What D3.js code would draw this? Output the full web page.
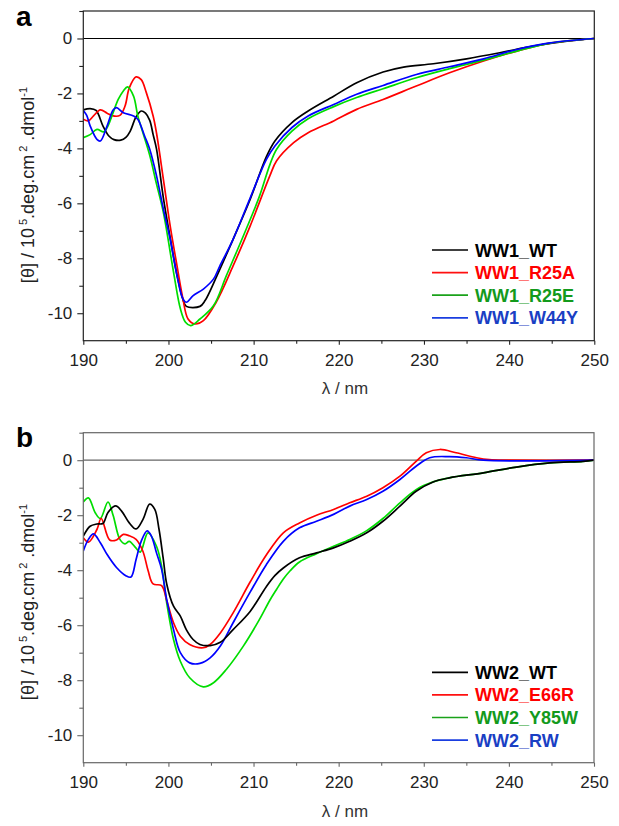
<!DOCTYPE html>
<html><head><meta charset="utf-8">
<script src="https://cdnjs.cloudflare.com/ajax/libs/d3/7.8.5/d3.min.js"></script>
<style>
body{margin:0;background:#fff;}
svg{display:block;font-family:"Liberation Sans",Arial,sans-serif;}
</style></head><body>
<svg id="c" width="619" height="826"></svg>
<script>
// ---- tick values ----
const xTicks = [190,200,210,220,230,240,250];
const xMinorTicks = [195,205,215,225,235,245];
const yTicks = [0,-2,-4,-6,-8,-10];
const yMinorTicks = [1,-1,-3,-5,-7,-9];

// ---- panel a series ----
const seriesA = ["WW1_WT","WW1_R25A","WW1_R25E","WW1_W44Y"];
const a_WT = [[190,-2.6],[190.8,-2.55],[191.5,-2.62],[192.3,-3.18],[193.0,-3.55],[193.6,-3.68],[194.4,-3.7],[195.0,-3.6],[195.5,-3.38],[196.2,-2.85],[196.8,-2.64],[197.3,-2.72],[197.8,-2.98],[198.2,-3.5],[198.6,-4.03],[199.4,-5.8],[200.2,-7.25],[201.0,-8.6],[201.7,-9.5],[202.1,-9.75],[203.7,-9.75],[204.3,-9.54],[205.7,-8.63],[207.6,-7.3],[209.6,-5.85],[211.5,-4.3],[212.5,-3.73],[214.5,-3.06],[216.4,-2.64],[219.4,-2.1],[222.1,-1.61],[225.2,-1.22],[227.6,-1.04],[231.1,-0.92],[235,-0.74],[238.9,-0.52],[242.8,-0.28],[246.8,-0.1],[250,0]];
const a_R25A = [[190,-2.94],[190.6,-3.0],[191.2,-2.82],[192.0,-2.6],[192.8,-2.72],[193.5,-2.82],[194.3,-2.8],[194.9,-2.46],[195.4,-1.8],[196.2,-1.4],[196.8,-1.5],[197.4,-1.97],[198.2,-2.82],[198.6,-3.45],[199.4,-5.12],[200.2,-6.82],[201.0,-8.27],[201.7,-9.48],[202.3,-10.21],[203.1,-10.39],[204.1,-10.27],[205.6,-9.6],[207.6,-8.27],[209.6,-6.82],[211.9,-5.0],[212.7,-4.45],[214.7,-3.79],[216.4,-3.43],[219.4,-3.0],[222.1,-2.58],[225.2,-2.22],[229.1,-1.73],[233,-1.25],[237,-0.82],[240.9,-0.46],[244.8,-0.17],[250,0]];
const a_R25E = [[190,-3.61],[190.8,-3.5],[191.6,-3.31],[192.4,-3.4],[192.9,-3.18],[193.5,-2.7],[194.1,-2.22],[194.7,-1.91],[195.2,-1.76],[195.9,-2.1],[196.4,-2.82],[197.0,-3.43],[197.8,-4.25],[198.6,-5.3],[199.4,-6.33],[200.6,-8.51],[201.4,-9.84],[202.0,-10.33],[202.6,-10.45],[203.7,-10.21],[205.3,-9.72],[206.8,-8.63],[208.8,-7.18],[210.7,-5.73],[211.9,-4.6],[212.7,-4.03],[214.5,-3.37],[216.4,-2.92],[219.4,-2.48],[222.1,-2.15],[225.2,-1.83],[229.1,-1.43],[233,-1.1],[237,-0.79],[240.9,-0.46],[244.8,-0.17],[250,0]];
const a_W44Y = [[190,-2.62],[190.4,-2.8],[190.8,-3.18],[191.6,-3.67],[192.0,-3.73],[192.8,-3.18],[193.5,-2.6],[193.9,-2.52],[194.7,-2.7],[195.9,-2.82],[196.4,-2.94],[197.2,-3.55],[197.8,-4.03],[198.6,-5.0],[199.4,-6.21],[200.2,-7.3],[201.0,-8.63],[201.7,-9.48],[202.1,-9.6],[202.9,-9.36],[204.1,-9.12],[205.3,-8.75],[206.0,-8.3],[207.6,-7.3],[209.6,-5.8],[211.5,-4.4],[212.5,-3.91],[214.5,-3.24],[216.4,-2.82],[219.4,-2.4],[222.1,-2.03],[225.2,-1.71],[229.1,-1.31],[233,-1.03],[237,-0.74],[240.9,-0.4],[244.8,-0.16],[250,0]];

// ---- panel b series ----
const seriesB = ["WW2_WT","WW2_E66R","WW2_Y85W","WW2_RW"];
const b_WT = [[190,-2.76],[190.8,-2.4],[191.6,-2.32],[192.3,-2.3],[192.9,-1.9],[193.8,-1.66],[194.5,-1.85],[195.4,-2.28],[196.2,-2.5],[197.0,-2.16],[197.8,-1.6],[198.4,-1.79],[198.9,-2.52],[199.4,-3.6],[199.8,-4.5],[200.6,-5.31],[201.4,-5.67],[202.1,-6.16],[202.9,-6.52],[203.7,-6.7],[204.9,-6.74],[206.1,-6.62],[207.6,-6.16],[209.6,-5.5],[211.5,-4.6],[212.5,-4.2],[213.5,-3.92],[215.4,-3.55],[217.4,-3.37],[219.4,-3.19],[221.3,-2.95],[223.3,-2.64],[225.2,-2.22],[227.2,-1.67],[229.1,-1.13],[231.1,-0.79],[233,-0.64],[237,-0.46],[240.9,-0.25],[244.8,-0.1],[248.7,-0.04],[250,0]];
const b_E66R = [[190,-2.82],[190.6,-2.98],[191.6,-2.52],[192.1,-2.12],[193.1,-2.9],[193.9,-2.9],[194.7,-2.7],[195.4,-2.75],[196.2,-2.88],[197.0,-3.31],[197.6,-4.0],[198.2,-4.5],[199.2,-4.56],[199.8,-5.1],[200.6,-5.91],[201.4,-6.4],[202.5,-6.7],[204.1,-6.82],[204.9,-6.7],[206.1,-6.28],[207.6,-5.55],[209.6,-4.43],[211.5,-3.45],[213.5,-2.64],[215.4,-2.28],[217.4,-2.0],[219.4,-1.79],[221.3,-1.55],[223.3,-1.31],[225.2,-1.0],[227.2,-0.58],[229.1,-0.04],[230.3,0.27],[231.9,0.39],[233.8,0.27],[236.2,0.09],[237.7,0.02],[240,0],[250,0]];
const b_Y85W = [[190,-1.52],[190.6,-1.37],[191.4,-1.91],[192.0,-2.12],[192.9,-1.52],[193.5,-2.0],[194.3,-2.88],[194.9,-3.04],[195.4,-2.95],[196.2,-3.2],[196.7,-3.34],[197.6,-2.64],[198.6,-3.13],[199.2,-3.85],[199.8,-5.19],[200.6,-6.52],[201.4,-7.31],[202.5,-7.91],[204.1,-8.24],[205.3,-8.09],[206.8,-7.61],[208.8,-6.76],[210.7,-5.79],[211.9,-5.1],[212.7,-4.7],[213.5,-4.32],[214.3,-4.02],[215.4,-3.7],[217.4,-3.4],[219.4,-3.13],[221.3,-2.88],[223.3,-2.56],[225.2,-2.12],[227.2,-1.55],[229.1,-1.07],[231.1,-0.79],[233,-0.64],[237,-0.46],[240.9,-0.25],[244.8,-0.1],[248.7,-0.04],[250,0]];
const b_RW = [[190,-3.3],[190.6,-2.88],[191.2,-2.68],[192.0,-3.0],[192.8,-3.43],[193.9,-3.9],[195.0,-4.2],[195.6,-4.25],[196.2,-3.61],[196.8,-2.95],[197.5,-2.57],[198.0,-2.76],[198.6,-3.37],[199.2,-3.97],[199.8,-5.07],[200.6,-6.16],[201.4,-7.0],[202.5,-7.37],[203.7,-7.39],[204.9,-7.19],[206.1,-6.76],[207.6,-5.91],[209.6,-4.8],[211.5,-3.8],[213.5,-2.95],[215.4,-2.46],[217.4,-2.22],[219.4,-1.97],[221.3,-1.67],[223.3,-1.43],[225.2,-1.13],[227.2,-0.7],[229.1,-0.22],[230.7,0.09],[233,0.13],[235,0.09],[237,0],[250,0]];

const lineColors = ["#000000","#ff0000","#00dd00","#0000ff"];
const textColors = ["#000000","#ff0000","#139a1c","#1a3fc4"];
const legendLineColors = ["#000000","#ff1010","#1aa21a","#1a3ee0"];

const svg = d3.select("#c");

function drawPanel(opt){
  const {top,bottom,left,right,names,data,order,frame,zero,letter,letterY,legendY,ytitleY,xtitleY} = opt;
  const g = svg.append("g");
  const x = d3.scaleLinear().domain([190,250]).range([left,right]);
  const y = d3.scaleLinear().domain([-11,1]).range([bottom,top]);

  // zero line
  g.append("line").attr("x1",left).attr("x2",right).attr("y1",y(0)).attr("y2",y(0))
    .attr("stroke",zero).attr("stroke-width",1.2);

  // curves
  const line = d3.line().x(d=>x(d[0])).y(d=>y(d[1])).curve(d3.curveCatmullRom.alpha(0.5));
  const clipId = "clip"+letter;
  g.append("clipPath").attr("id",clipId).append("rect")
    .attr("x",left).attr("y",top).attr("width",right-left).attr("height",bottom-top);
  const cg = g.append("g").attr("clip-path",`url(#${clipId})`);
  order.forEach(i=>{
    cg.append("path").datum(data[i]).attr("d",line).attr("fill","none")
      .attr("stroke",lineColors[i]).attr("stroke-width",1.7).attr("stroke-linejoin","round");
  });

  // frame
  g.append("rect").attr("x",left).attr("y",top).attr("width",right-left).attr("height",bottom-top)
    .attr("fill","none").attr("stroke",frame).attr("stroke-width",1.2);

  // axes
  const xa = g.append("g").attr("transform",`translate(0,${bottom})`)
    .call(d3.axisBottom(x).tickValues(xTicks).tickSize(4).tickSizeOuter(0).tickPadding(9).tickFormat(d=>String(d)));
  const xm = g.append("g").attr("transform",`translate(0,${bottom})`)
    .call(d3.axisBottom(x).tickValues(xMinorTicks).tickSize(3).tickSizeOuter(0).tickFormat(""));
  const ya = g.append("g").attr("transform",`translate(${left},0)`)
    .call(d3.axisLeft(y).tickValues(yTicks).tickSize(6).tickSizeOuter(0).tickPadding(5).tickFormat(d=>String(d)));
  const ym = g.append("g").attr("transform",`translate(${left},0)`)
    .call(d3.axisLeft(y).tickValues(yMinorTicks).tickSize(4).tickSizeOuter(0).tickFormat(""));
  [xa,xm,ya,ym].forEach(a=>{
    a.select(".domain").remove();
    a.selectAll(".tick line").attr("stroke",frame).attr("stroke-width",1.1);
    a.selectAll(".tick text").attr("fill","#222").style("font-size","17px")
      .style("font-family","'Liberation Sans',Arial,sans-serif");
  });

  // x title
  g.append("text").attr("x",345).attr("y",xtitleY).attr("text-anchor","middle")
    .attr("fill","#333").style("font-size","17px").text("λ / nm");

  // y title
  const yt = g.append("text").attr("transform",`translate(34,${ytitleY}) rotate(-90)`)
    .attr("text-anchor","middle").attr("fill","#222").style("font-size","18px");
  yt.append("tspan").text("[θ] / 10");
  yt.append("tspan").attr("dy",-7).style("font-size","11px").text(" 5");
  yt.append("tspan").attr("dy",7).text(".deg.cm");
  yt.append("tspan").attr("dy",-7).style("font-size","11px").text(" 2");
  yt.append("tspan").attr("dy",7).text(" .dmol");
  yt.append("tspan").attr("dy",-7).style("font-size","11px").text("-1");

  // panel letter
  g.append("text").attr("x",16).attr("y",letterY).attr("fill","#000")
    .style("font-size","28px").style("font-weight","bold").text(letter);

  // legend
  names.forEach((n,i)=>{
    const ly = legendY + i*22.6;
    g.append("line").attr("x1",432).attr("x2",468).attr("y1",ly).attr("y2",ly)
      .attr("stroke",legendLineColors[i]).attr("stroke-width",1.7);
    g.append("text").attr("x",475).attr("y",ly+6.5).attr("fill",textColors[i])
      .style("font-size","18px").style("font-weight","bold").text(n);
  });
}

drawPanel({top:11,bottom:340.7,left:83.3,right:594.3,names:seriesA,
  data:[a_WT,a_R25A,a_R25E,a_W44Y],order:[0,1,2,3],frame:"#222",zero:"#000",
  letter:"a",letterY:26,legendY:250,ytitleY:185,xtitleY:394});
drawPanel({top:432.7,bottom:762.7,left:83.3,right:594,names:seriesB,
  data:[b_WT,b_E66R,b_Y85W,b_RW],order:[2,1,3,0],frame:"#666",zero:"#666",
  letter:"b",letterY:447,legendY:672.3,ytitleY:602,xtitleY:817});
</script>
</body></html>
